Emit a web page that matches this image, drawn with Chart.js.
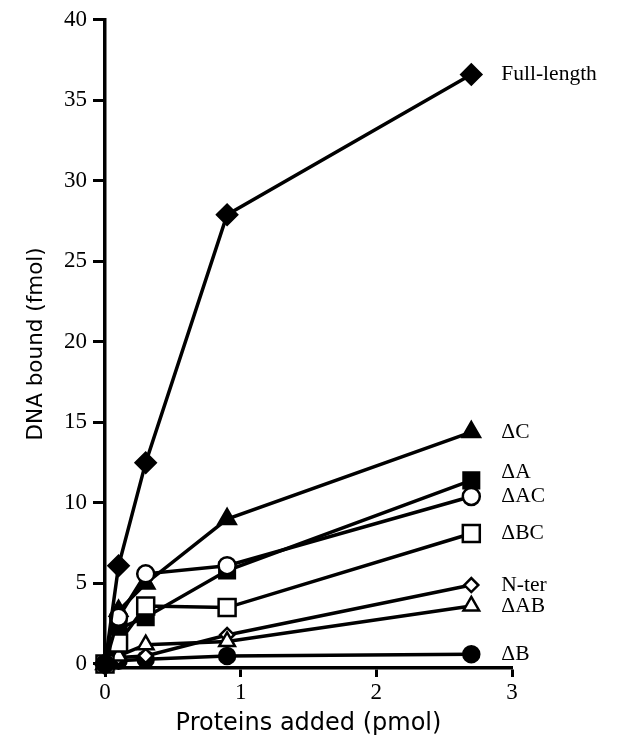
<!DOCTYPE html>
<html>
<head>
<meta charset="utf-8">
<script src="https://cdn.jsdelivr.net/npm/chart.js@4.4.1/dist/chart.umd.min.js"></script>
<style>
    html, body { margin: 0; padding: 0; background: #fff; }
    #wrap { width: 630px; height: 742px; position: relative; }
</style>
</head>
<body>
<div id="wrap"><canvas id="chart"></canvas></div>
<script>
// Proteins added (pmol)
const proteinsAdded = [0, 0.1, 0.3, 0.9, 2.7];

// DNA bound (fmol) for each construct
const fullLength = [0, 6.1, 12.5, 27.9, 36.6];
const deltaC     = [0, 3.3, 5.0, 9.0, 14.4];
const deltaA     = [0, 2.2, 2.9, 5.8, 11.4];
const deltaAC    = [0, 2.9, 5.6, 6.1, 10.4];
const deltaBC    = [0, 1.3, 3.6, 3.5, 8.1];
const nTer       = [0, 0.4, 0.5, 1.8, 4.9];
const deltaAB    = [0, 0.5, 1.2, 1.4, 3.6];
const deltaB     = [0, 0.2, 0.3, 0.5, 0.6];

const seriesNames = ['Full-length', '\u0394C', '\u0394A', '\u0394AC', '\u0394BC', 'N-ter', '\u0394AB', '\u0394B'];

const xTicks = [0, 1, 2, 3];
const yTicks = [0, 5, 10, 15, 20, 25, 30, 35, 40];

function toPoints(values) {
    return values.map((v, i) => ({ x: proteinsAdded[i], y: v }));
}

// marker style per series
function makeDataset(name, values, shape, filled, radius, order) {
    return {
        label: name,
        data: toPoints(values),
        borderColor: '#000',
        borderWidth: 3.5,
        pointStyle: shape,
        pointRadius: radius,
        pointHoverRadius: radius,
        pointBackgroundColor: filled ? '#000' : '#fff',
        pointBorderColor: '#000',
        pointBorderWidth: 2.5,
        clip: false,
        order: order,
        tension: 0
    };
}

const datasets = [
    makeDataset(seriesNames[0], fullLength, 'rectRot', true, 10, 1),
    makeDataset(seriesNames[1], deltaC, 'triangle', true, 10, 4),
    makeDataset(seriesNames[2], deltaA, 'rect', true, 11, 5),
    makeDataset(seriesNames[3], deltaAC, 'circle', false, 8.5, 2),
    makeDataset(seriesNames[4], deltaBC, 'rect', false, 12, 3),
    makeDataset(seriesNames[5], nTer, 'rectRot', false, 7, 7),
    makeDataset(seriesNames[6], deltaAB, 'triangle', false, 9, 6),
    makeDataset(seriesNames[7], deltaB, 'circle', true, 8, 8)
];

// labels at end of each line
const endLabels = {
    id: 'endLabels',
    afterDatasetsDraw(chart) {
        const ctx = chart.ctx;
        const xs = chart.scales.x;
        const ys = chart.scales.y;
        const nudge = { '\u0394A': -8 };
        ctx.save();
        ctx.font = '21.5px "Liberation Serif", serif';
        ctx.fillStyle = '#000';
        ctx.textBaseline = 'middle';
        ctx.textAlign = 'left';
        chart.data.datasets.forEach(ds => {
            const last = ds.data[ds.data.length - 1];
            const px = xs.getPixelForValue(last.x) + 30;
            const py = ys.getPixelForValue(last.y) + (nudge[ds.label] || 0);
            ctx.fillText(ds.label, px, py);
        });
        ctx.restore();
    }
};

const ctx = document.getElementById('chart').getContext('2d');
new Chart(ctx, {
    type: 'line',
    data: { datasets: datasets },
    plugins: [endLabels],
    options: {
        responsive: true,
        maintainAspectRatio: false,
        animation: false,
        layout: { padding: { top: 18, right: 118, left: 0, bottom: 0 } },
        plugins: {
            legend: { display: false },
            tooltip: { enabled: false }
        },
        scales: {
            x: {
                type: 'linear',
                min: 0,
                max: 3,
                afterBuildTicks: scale => { scale.ticks = xTicks.map(v => ({ value: v })); },
                afterFit: scale => { scale.height = 74; },
                border: { display: true, color: '#000', width: 3.5 },
                grid: { drawOnChartArea: false, drawTicks: true, tickLength: 9, tickWidth: 3, tickColor: '#000' },
                ticks: {
                    color: '#000',
                    padding: 2,
                    font: { family: '"Liberation Serif", serif', size: 23 }
                },
                title: {
                    display: true,
                    text: 'Proteins added (pmol)',
                    color: '#000',
                    padding: { top: 0, bottom: 4 },
                    font: { family: '"DejaVu Sans", sans-serif', size: 24 }
                }
            },
            y: {
                type: 'linear',
                min: -0.25,
                max: 40,
                afterBuildTicks: scale => { scale.ticks = yTicks.map(v => ({ value: v })); },
                afterFit: scale => { scale.width = 105; },
                border: { display: true, color: '#000', width: 3.5 },
                grid: { drawOnChartArea: false, drawTicks: true, tickLength: 12, tickWidth: 3, tickColor: '#000' },
                ticks: {
                    color: '#000',
                    padding: 6,
                    font: { family: '"Liberation Serif", serif', size: 23 }
                },
                title: {
                    display: true,
                    text: 'DNA bound (fmol)',
                    color: '#000',
                    padding: { top: 24, bottom: 0 },
                    font: { family: '"DejaVu Sans", sans-serif', size: 21.5 }
                }
            }
        }
    }
});
</script>
</body>
</html>
